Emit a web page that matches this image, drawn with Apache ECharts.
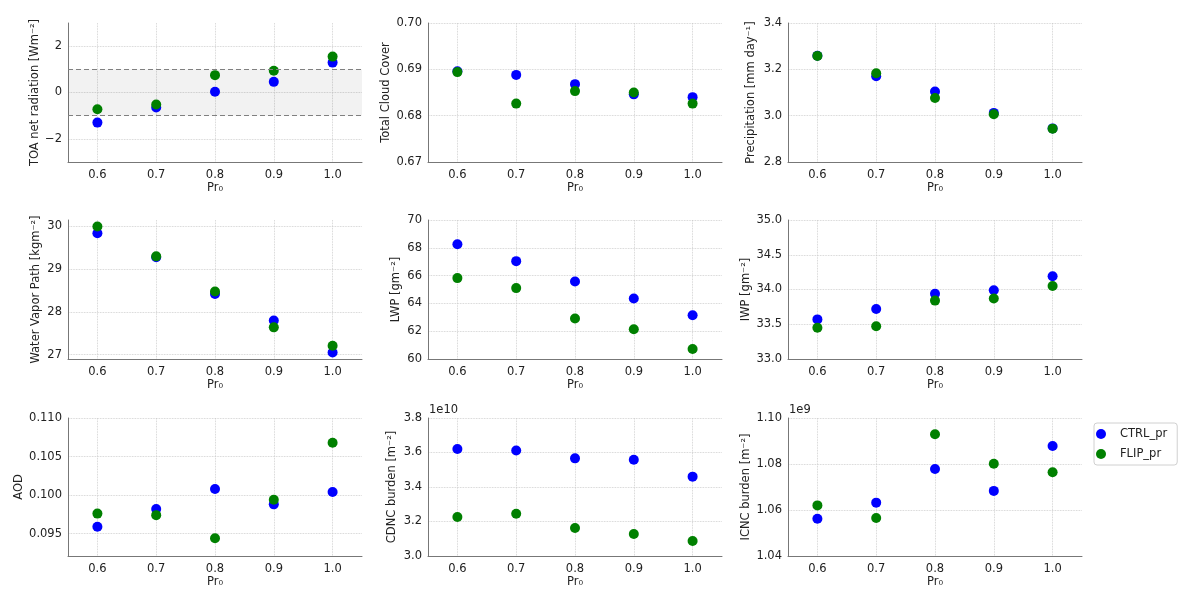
<!DOCTYPE html>
<html>
<head>
<meta charset="utf-8">
<title>Pr0 sensitivity</title>
<script src="https://cdn.jsdelivr.net/npm/echarts@6/dist/echarts.min.js"></script>
<style>
html, body { margin: 0; padding: 0; background: #fff; }
#chart { width: 1200px; height: 604px; }
</style>
</head>
<body>
<div id="chart"></div>
<script>
// x values and ticks
const prValues = [0.6, 0.7, 0.8, 0.9, 1.0];
const xTicks = [0.6, 0.7, 0.8, 0.9, 1.0];

// TOA net radiation
const toaCtrl = [-1.30, -0.65, 0.03, 0.46, 1.29];
const toaFlip = [-0.72, -0.52, 0.75, 0.94, 1.55];
const toaTicks = [-2, 0, 2];

// total cloud cover
const tccCtrl = [0.6896, 0.6888, 0.6868, 0.6846, 0.6840];
const tccFlip = [0.6894, 0.6826, 0.6853, 0.6850, 0.6826];
const tccTicks = [0.67, 0.68, 0.69, 0.70];

// precipitation
const precCtrl = [3.259, 3.170, 3.104, 3.012, 2.945];
const precFlip = [3.258, 3.183, 3.076, 3.006, 2.944];
const precTicks = [2.8, 3.0, 3.2, 3.4];

// water vapor path
const wvpCtrl = [29.84, 29.28, 28.42, 27.80, 27.05];
const wvpFlip = [30.00, 29.30, 28.48, 27.64, 27.21];
const wvpTicks = [27, 28, 29, 30];

// liquid water path
const lwpCtrl = [68.25, 67.04, 65.58, 64.35, 63.15];
const lwpFlip = [65.82, 65.10, 62.91, 62.14, 60.72];
const lwpTicks = [60, 62, 64, 66, 68, 70];

// ice water path
const iwpCtrl = [33.57, 33.72, 33.94, 33.99, 34.19];
const iwpFlip = [33.45, 33.47, 33.84, 33.87, 34.05];
const iwpTicks = [33.0, 33.5, 34.0, 34.5, 35.0];

// aerosol optical depth
const aodCtrl = [0.0959, 0.0982, 0.1008, 0.0988, 0.1004];
const aodFlip = [0.0976, 0.0974, 0.0944, 0.0994, 0.1068];
const aodTicks = [0.095, 0.100, 0.105, 0.110];

// CDNC burden
const cdncCtrl = [3.620e10, 3.612e10, 3.566e10, 3.558e10, 3.460e10];
const cdncFlip = [3.226e10, 3.245e10, 3.162e10, 3.128e10, 3.087e10];
const cdncTicks = [3.0e10, 3.2e10, 3.4e10, 3.6e10, 3.8e10];

// ICNC burden
const icncCtrl = [1.0562e9, 1.0632e9, 1.0778e9, 1.0683e9, 1.0878e9];
const icncFlip = [1.0620e9, 1.0565e9, 1.0929e9, 1.0801e9, 1.0764e9];
const icncTicks = [1.04e9, 1.06e9, 1.08e9, 1.10e9];

const minus = v => (v < 0 ? '\u2212' + Math.abs(v) : String(v));

const panels = [
    { name: 'TOA net radiation [Wm\u207b\u00b2]', ctrl: toaCtrl, flip: toaFlip, min: -3, max: 3, ticks: toaTicks, fmt: v => minus(v), gap: 26 },
    { name: 'Total Cloud Cover', ctrl: tccCtrl, flip: tccFlip, min: 0.67, max: 0.70, ticks: tccTicks, fmt: v => v.toFixed(2), gap: 36 },
    { name: 'Precipitation [mm day\u207b\u00b9]', ctrl: precCtrl, flip: precFlip, min: 2.8, max: 3.4, ticks: precTicks, fmt: v => v.toFixed(1), gap: 31 },
    { name: 'Water Vapor Path [kgm\u207b\u00b2]', ctrl: wvpCtrl, flip: wvpFlip, min: 26.9, max: 30.15, ticks: wvpTicks, fmt: v => v.toFixed(0), gap: 26 },
    { name: 'LWP [gm\u207b\u00b2]', ctrl: lwpCtrl, flip: lwpFlip, min: 60, max: 70, ticks: lwpTicks, fmt: v => v.toFixed(0), gap: 26 },
    { name: 'IWP [gm\u207b\u00b2]', ctrl: iwpCtrl, flip: iwpFlip, min: 33, max: 35, ticks: iwpTicks, fmt: v => v.toFixed(1), gap: 36 },
    { name: 'AOD', ctrl: aodCtrl, flip: aodFlip, min: 0.0921, max: 0.110, ticks: aodTicks, fmt: v => v.toFixed(3), gap: 43 },
    { name: 'CDNC burden [m\u207b\u00b2]', ctrl: cdncCtrl, flip: cdncFlip, min: 3.0e10, max: 3.8e10, ticks: cdncTicks, fmt: v => (v / 1e10).toFixed(1), gap: 30 },
    { name: 'ICNC burden [m\u207b\u00b2]', ctrl: icncCtrl, flip: icncFlip, min: 1.04e9, max: 1.10e9, ticks: icncTicks, fmt: v => (v / 1e9).toFixed(2), gap: 36 }
];

const colLeft = [68, 428, 788];
const rowTop = [23, 220, 418];
const textColor = '#222';
const font = 'DejaVu Sans';

const grids = [], xAxes = [], yAxes = [], series = [];

panels.forEach((p, i) => {
    const r = Math.floor(i / 3), c = i % 3;
    grids.push({ left: colLeft[c], top: rowTop[r], width: 294, height: r === 2 ? 138 : 139 });
    xAxes.push({
        type: 'value', gridIndex: i, min: 0.55, max: 1.05,
        name: 'Pr\u2080', nameLocation: 'middle', nameGap: 18,
        nameTextStyle: { fontSize: 11.5, color: textColor, fontFamily: font },
        axisLine: { onZero: false, lineStyle: { color: '#777', width: 1 } },
        axisTick: { show: false, customValues: xTicks },
        axisLabel: { customValues: xTicks, formatter: v => v.toFixed(1), fontSize: 11.5, color: textColor, fontFamily: font, margin: 7 },
        splitLine: { show: true, lineStyle: { type: 'dotted', color: '#c8c8c8', width: 0.8 } }
    });
    yAxes.push({
        type: 'value', gridIndex: i, min: p.min, max: p.max,
        name: p.name, nameLocation: 'middle', nameGap: p.gap,
        nameTextStyle: { fontSize: 11.5, color: textColor, fontFamily: font },
        axisLine: { show: true, onZero: false, lineStyle: { color: '#777', width: 1 } },
        axisTick: { show: false, customValues: p.ticks },
        axisLabel: { customValues: p.ticks, formatter: p.fmt, fontSize: 11.5, color: textColor, fontFamily: font, margin: 6 },
        splitLine: { show: true, lineStyle: { type: 'dotted', color: '#c8c8c8', width: 0.8 } }
    });
    if (i === 0) {
        // shaded +-1 band with dashed edges
        series.push({
            type: 'scatter', xAxisIndex: 0, yAxisIndex: 0, data: [], z: 1, silent: true,
            markArea: { silent: true, itemStyle: { color: 'rgba(0,0,0,0.05)' }, data: [[{ yAxis: -1 }, { yAxis: 1 }]] },
            markLine: {
                silent: true, symbol: 'none', label: { show: false },
                lineStyle: { type: [5, 3], color: '#808080', width: 1.2 },
                data: [{ yAxis: -1 }, { yAxis: 1 }]
            }
        });
    }
    series.push({
        name: 'CTRL_pr', type: 'scatter', xAxisIndex: i, yAxisIndex: i, symbolSize: 10, z: 3,
        itemStyle: { color: '#0000ff', opacity: 1 },
        data: prValues.map((x, k) => [x, p.ctrl[k]])
    });
    series.push({
        name: 'FLIP_pr', type: 'scatter', xAxisIndex: i, yAxisIndex: i, symbolSize: 10, z: 4,
        itemStyle: { color: '#008000', opacity: 1 },
        data: prValues.map((x, k) => [x, p.flip[k]])
    });
});

const chart = echarts.init(document.getElementById('chart'));
chart.setOption({
    animation: false,
    backgroundColor: '#fff',
    grid: grids,
    xAxis: xAxes,
    yAxis: yAxes,
    series: series,
    legend: {
        data: ['CTRL_pr', 'FLIP_pr'], orient: 'vertical', left: 1094, top: 423,
        icon: 'circle', itemWidth: 28, itemHeight: 10, itemGap: 8, padding: [5, 10, 5, 2],
        borderColor: '#d0d0d0', borderWidth: 1, borderRadius: 3,
        textStyle: { fontSize: 11.5, color: textColor, fontFamily: font }
    },
    graphic: [
        { type: 'text', left: 429, top: 404, style: { text: '1e10', fontSize: 11.5, fill: textColor, fontFamily: font } },
        { type: 'text', left: 789, top: 404, style: { text: '1e9', fontSize: 11.5, fill: textColor, fontFamily: font } }
    ]
});
</script>
</body>
</html>
